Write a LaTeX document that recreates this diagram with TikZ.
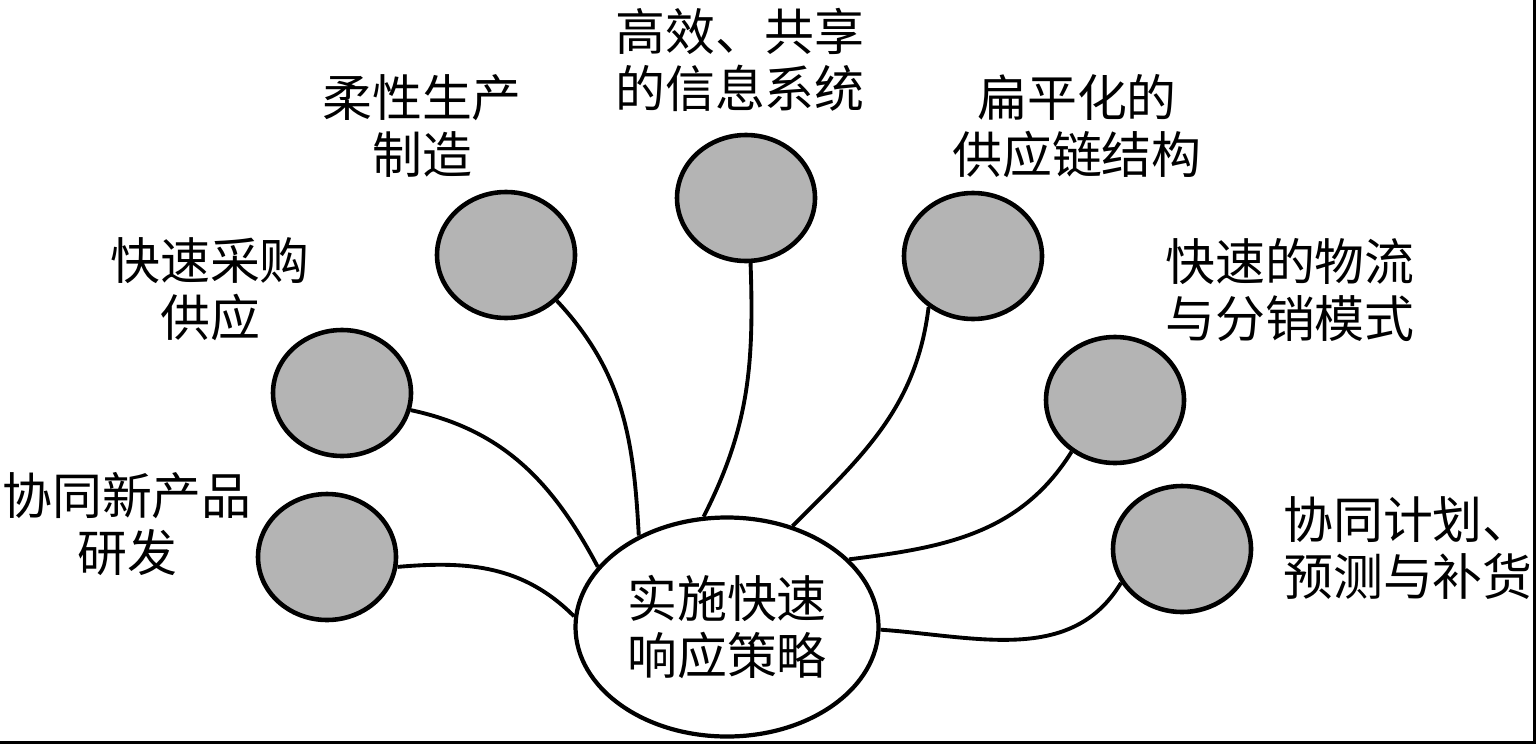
\documentclass[tikz,border=0pt]{standalone}
\usepackage{fontspec}
\newfontfamily\cjk{Noto Sans CJK SC}
\usetikzlibrary{shapes.geometric}
\definecolor{ballgray}{RGB}{180,180,180}
\begin{document}
\begin{tikzpicture}[ball/.style={draw,line width=1.3pt,ellipse,fill=ballgray,inner sep=0,minimum width=1.38cm,minimum height=1.26cm},
lbl/.style={align=center,inner sep=0,font=\cjk\fontsize{14.2}{16.2}\selectfont},
link/.style={line width=1.1pt}]
\useasboundingbox(0,0)rectangle(15.36,7.44);
\draw[line width=1pt](0,0.015)--(15.345,0.015)--(15.345,7.44);
\node[draw,line width=1.2pt,ellipse,inner sep=0,minimum width=3.03cm,minimum height=2.19cm,align=center,font=\cjk\fontsize{14.2}{16.2}\selectfont](main)at(7.27,1.17){实施快速\\响应策略};
\node[ball](newprod)at(3.27,1.87){} (1.27,2.20)node[lbl](newprodtxt){协同新产品\\研发};
\node[ball](purchase)at(3.42,3.51){} (2.10,4.55)node[lbl](purchasetxt){快速采购\\供应};
\node[ball](flexprod)at(5.06,4.89){} (4.22,6.18)node[lbl](flexprodtxt){柔性生产\\制造};
\node[ball](infosys)at(7.46,5.46){} (7.40,6.84)node[lbl](infosystxt){高效、共享\\的信息系统};
\node[ball](flatchain)at(9.73,4.88){} (10.77,6.18)node[lbl](flatchaintxt){扁平化的\\供应链结构};
\node[ball](logistics)at(11.15,3.44){} (12.90,4.54)node[lbl](logisticstxt){快速的物流\\与分销模式};
\node[ball](cpfr)at(11.82,1.95){} (14.08,1.96)node[lbl](cpfrtxt){协同计划、\\预测与补货};
% branches into the centre
\draw[link](newprod.-8) to [out=5,in=135](main.176);
\draw[link](purchase.-14) to [out=-12,in=118](main.155);
\draw[link](flexprod.-42) to [out=-47,in=93](main.134);
\draw[link](infosys.-86) to [out=-88,in=63](main.102);
\draw[link](flatchain.-131) to [out=-97,in=45](main.57);
\draw[link](logistics.-130) to [out=-122,in=7](main.29);
\draw[link](cpfr.-151) to [out=-121,in=-4](main.-1);
\end{tikzpicture}
\end{document}
